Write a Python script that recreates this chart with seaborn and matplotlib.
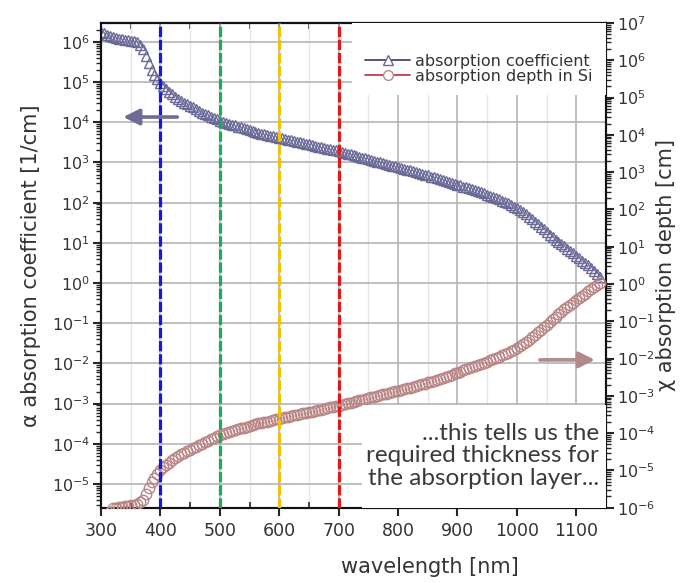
import numpy as np
import matplotlib
matplotlib.use("Agg")
import matplotlib.pyplot as plt
import seaborn as sns
from matplotlib.lines import Line2D
from matplotlib.patches import Rectangle
from matplotlib.ticker import LogLocator, NullFormatter, MultipleLocator

# ---------------- data ----------------
wavelength_nm = list(range(300, 1145, 5))

# log10 of absorption coefficient alpha [1/cm] (left axis), one per wavelength
alpha_log10 = [
    6.24, 6.21, 6.17, 6.14, 6.11, 6.09, 6.07, 6.06, 6.05, 6.04,   # 300-345
    6.03, 6.02, 6.00, 5.92, 5.82, 5.64, 5.47, 5.31, 5.18, 5.07,   # 350-395
    4.98, 4.90, 4.83, 4.76, 4.70, 4.64, 4.59, 4.54, 4.49, 4.45,   # 400-445
    4.41, 4.37, 4.32, 4.28, 4.24, 4.20, 4.17, 4.13, 4.10, 4.07,   # 450-495
    4.04, 4.01, 3.99, 3.96, 3.94, 3.92, 3.89, 3.87, 3.85, 3.83,   # 500-545
    3.81, 3.78, 3.76, 3.74, 3.72, 3.70, 3.69, 3.67, 3.65, 3.63,   # 550-595
    3.62, 3.60, 3.58, 3.56, 3.55, 3.53, 3.51, 3.50, 3.48, 3.46,   # 600-645
    3.45, 3.43, 3.41, 3.39, 3.38, 3.36, 3.34, 3.33, 3.31, 3.30,   # 650-695
    3.28, 3.26, 3.24, 3.22, 3.20, 3.18, 3.16, 3.14, 3.12, 3.10,   # 700-745
    3.08, 3.06, 3.04, 3.02, 3.00, 2.98, 2.96, 2.94, 2.92, 2.90,   # 750-795
    2.88, 2.86, 2.84, 2.82, 2.80, 2.78, 2.76, 2.74, 2.72, 2.70,   # 800-845
    2.68, 2.65, 2.63, 2.61, 2.58, 2.56, 2.54, 2.52, 2.49, 2.47,   # 850-895
    2.45, 2.43, 2.40, 2.38, 2.36, 2.34, 2.31, 2.29, 2.26, 2.23,   # 900-945
    2.20, 2.17, 2.14, 2.11, 2.08, 2.05, 2.01, 1.98, 1.94, 1.90,   # 950-995
    1.86, 1.81, 1.76, 1.71, 1.65, 1.59, 1.53, 1.47, 1.40, 1.34,   # 1000-1045
    1.27, 1.20, 1.14, 1.08, 1.02, 0.96, 0.91, 0.85, 0.80, 0.74,   # 1050-1095
    0.68, 0.62, 0.56, 0.50, 0.44, 0.37, 0.30, 0.23, 0.16,         # 1100-1140
]

# log10 of absorption depth in Si [cm] (right axis), one per wavelength
depth_log10 = [
    -6.24, -6.21, -6.17, -6.12, -6.02, -6.00, -5.99, -5.97, -5.96, -5.95,   # 300-345
    -5.94, -5.92, -5.90, -5.86, -5.79, -5.62, -5.46, -5.32, -5.20, -5.09,   # 350-395
    -4.99, -4.92, -4.85, -4.79, -4.73, -4.67, -4.62, -4.57, -4.53, -4.49,   # 400-445
    -4.45, -4.41, -4.37, -4.32, -4.28, -4.24, -4.20, -4.16, -4.12, -4.08,   # 450-495
    -4.04, -4.01, -3.99, -3.96, -3.94, -3.92, -3.89, -3.87, -3.85, -3.83,   # 500-545
    -3.81, -3.78, -3.76, -3.74, -3.72, -3.70, -3.69, -3.67, -3.65, -3.63,   # 550-595
    -3.61, -3.59, -3.58, -3.56, -3.54, -3.52, -3.51, -3.49, -3.47, -3.45,   # 600-645
    -3.44, -3.42, -3.40, -3.38, -3.37, -3.35, -3.33, -3.31, -3.30, -3.28,   # 650-695
    -3.26, -3.24, -3.22, -3.20, -3.18, -3.16, -3.14, -3.12, -3.10, -3.08,   # 700-745
    -3.06, -3.04, -3.02, -3.00, -2.98, -2.96, -2.94, -2.92, -2.90, -2.88,   # 750-795
    -2.86, -2.84, -2.82, -2.80, -2.78, -2.76, -2.74, -2.72, -2.69, -2.67,   # 800-845
    -2.64, -2.62, -2.59, -2.57, -2.54, -2.51, -2.49, -2.46, -2.43, -2.40,   # 850-895
    -2.38, -2.35, -2.32, -2.29, -2.26, -2.23, -2.20, -2.17, -2.14, -2.11,   # 900-945
    -2.08, -2.05, -2.02, -1.98, -1.95, -1.91, -1.88, -1.84, -1.80, -1.76,   # 950-995
    -1.72, -1.67, -1.62, -1.56, -1.50, -1.43, -1.37, -1.30, -1.23, -1.16,   # 1000-1045
    -1.09, -1.02, -0.95, -0.88, -0.81, -0.74, -0.68, -0.62, -0.56, -0.50,   # 1050-1095
    -0.44, -0.38, -0.32, -0.26, -0.20, -0.14, -0.08, -0.02, 0.04,           # 1100-1140
]

marker_wavelengths = [400, 500, 600, 700]
marker_colors = ["#1418e0", "#1faa55", "#f2c200", "#e41818"]

legend_labels = ["absorption coefficient", "absorption depth in Si"]
xlabel = "wavelength [nm]"
ylabel_left = "\u03b1 absorption coefficient [1/cm]"
ylabel_right = "\u03c7 absorption depth [cm]"
note_text = "...this tells us the\nrequired thickness for\nthe absorption layer..."

# ---------------- figure ----------------
sns.set_theme(style="white")
plt.rcParams["font.family"] = ["DejaVu Sans"]
plt.rcParams["lines.scale_dashes"] = True

alpha_vals = 10.0 ** np.array(alpha_log10)
depth_vals = 10.0 ** np.array(depth_log10)

fig = plt.figure(figsize=(6.86, 5.83), dpi=100)
ax = fig.add_axes([101 / 686, 1 - 507.7 / 583, 505 / 686, 484.7 / 583])
ax2 = ax.twinx()

tri_color = "#6a6a98"
circ_color = "#b98585"
text_color = "#333333"

sns.lineplot(x=wavelength_nm, y=alpha_vals, ax=ax, marker="^", linestyle="none",
             markersize=7.5, markerfacecolor="none", markeredgecolor=tri_color,
             markeredgewidth=1.0, estimator=None, legend=False, zorder=3)
sns.lineplot(x=wavelength_nm, y=depth_vals, ax=ax2, marker="o", linestyle="none",
             markersize=7.5, markerfacecolor="none", markeredgecolor=circ_color,
             markeredgewidth=1.0, estimator=None, legend=False, zorder=3)

# axes scales / limits
ax.set_yscale("log")
ax2.set_yscale("log")
ax.set_xlim(300, 1150)
ax.set_ylim(10 ** -5.59, 10 ** 6.47)
ax2.set_ylim(1e-6, 1e7)

for a in (ax, ax2):
    a.yaxis.set_major_locator(LogLocator(base=10, numticks=30))
    a.yaxis.set_minor_locator(LogLocator(base=10, subs=np.arange(2, 10), numticks=30))
    a.yaxis.set_minor_formatter(NullFormatter())

ax.xaxis.set_major_locator(MultipleLocator(100))
ax.xaxis.set_minor_locator(MultipleLocator(50))

# grid
ax.grid(True, which="major", axis="both", color="#b4b4b4", linewidth=1.2)
ax.grid(True, which="minor", axis="x", color="#e6e6e6", linewidth=1.0)
ax.set_axisbelow(True)

# vertical dashed lines
for wl, c in zip(marker_wavelengths, marker_colors):
    ax2.axvline(wl, color=c, linewidth=2.3, dashes=(3.2, 0.9), zorder=4)

# ticks
ax.tick_params(axis="y", which="major", direction="out", length=6, width=1.5,
               labelsize=11.5, labelcolor=text_color, pad=2, left=True)
ax.tick_params(axis="y", which="minor", direction="out", length=3.5, width=1.0, left=True)
ax2.tick_params(axis="y", which="major", direction="out", length=6, width=1.5,
                labelsize=11.5, labelcolor=text_color, pad=2, right=True)
ax2.tick_params(axis="y", which="minor", direction="out", length=3.5, width=1.0, right=True)
ax.tick_params(axis="x", which="major", direction="out", length=6, width=1.5,
               labelsize=12.5, labelcolor=text_color, pad=4, bottom=True)
ax.tick_params(axis="x", which="minor", direction="in", length=4, width=1.2, bottom=True)

top = ax.secondary_xaxis("top")
top.xaxis.set_major_locator(MultipleLocator(50))
top.tick_params(axis="x", which="major", direction="in", length=4, width=1.2, labeltop=False)
top.spines["top"].set_linewidth(1.5)

for a in (ax, ax2):
    for s in a.spines.values():
        s.set_color("#111111")
        s.set_linewidth(1.5)

# labels
ax.set_xlabel(xlabel, fontsize=15, color=text_color)
ax.xaxis.set_label_coords(0.651, -0.102)
ax.set_ylabel(ylabel_left, fontsize=15, color=text_color)
ax.yaxis.set_label_coords(-0.118, 0.5)
ax2.set_ylabel(ylabel_right, fontsize=15, color=text_color, rotation=90)
ax2.yaxis.set_label_coords(1.10, 0.5)

# legend (white background patch, no frame)
ax2.add_patch(Rectangle((0.497, 0.851), 0.503, 0.149, transform=ax2.transAxes,
                        facecolor="white", edgecolor="none", zorder=5))
handles = [
    Line2D([], [], color="#45457a", linewidth=1.3, marker="^", markersize=7,
           markerfacecolor="white", markeredgecolor=tri_color, markeredgewidth=1.0),
    Line2D([], [], color="#c23a4e", linewidth=1.3, marker="o", markersize=7,
           markerfacecolor="white", markeredgecolor=circ_color, markeredgewidth=1.0),
]
leg = ax2.legend(handles, legend_labels, loc="center right", bbox_to_anchor=(0.995, 0.905),
                 frameon=False, fontsize=11.5, handlelength=2.8, handletextpad=0.3,
                 labelspacing=0.0, borderpad=0.2)
leg.set_zorder(6)
for t in leg.get_texts():
    t.set_color(text_color)

# arrows
ax2.annotate("", xy=(0.044, 0.806), xytext=(0.151, 0.806), xycoords="axes fraction",
             arrowprops=dict(arrowstyle="-|>,head_length=0.8,head_width=0.4",
                             color="#6e6c94", lw=2.6, shrinkA=0, shrinkB=0), zorder=6)
ax2.annotate("", xy=(0.978, 0.305), xytext=(0.869, 0.305), xycoords="axes fraction",
             arrowprops=dict(arrowstyle="-|>,head_length=0.8,head_width=0.4",
                             color="#b08a8a", lw=2.6, shrinkA=0, shrinkB=0), zorder=6)

# note box
ax2.add_patch(Rectangle((0.517, 0.0), 0.483, 0.212, transform=ax2.transAxes,
                        facecolor="white", edgecolor="none", zorder=5))
ax2.text(0.986, 0.107, note_text, transform=ax2.transAxes, ha="right", va="center",
         multialignment="right", fontsize=17.5, family=["Lato", "DejaVu Sans"],
         color="#3a3a3a", linespacing=1.08, zorder=6)

fig.savefig("out.png", dpi=100, facecolor="white")
